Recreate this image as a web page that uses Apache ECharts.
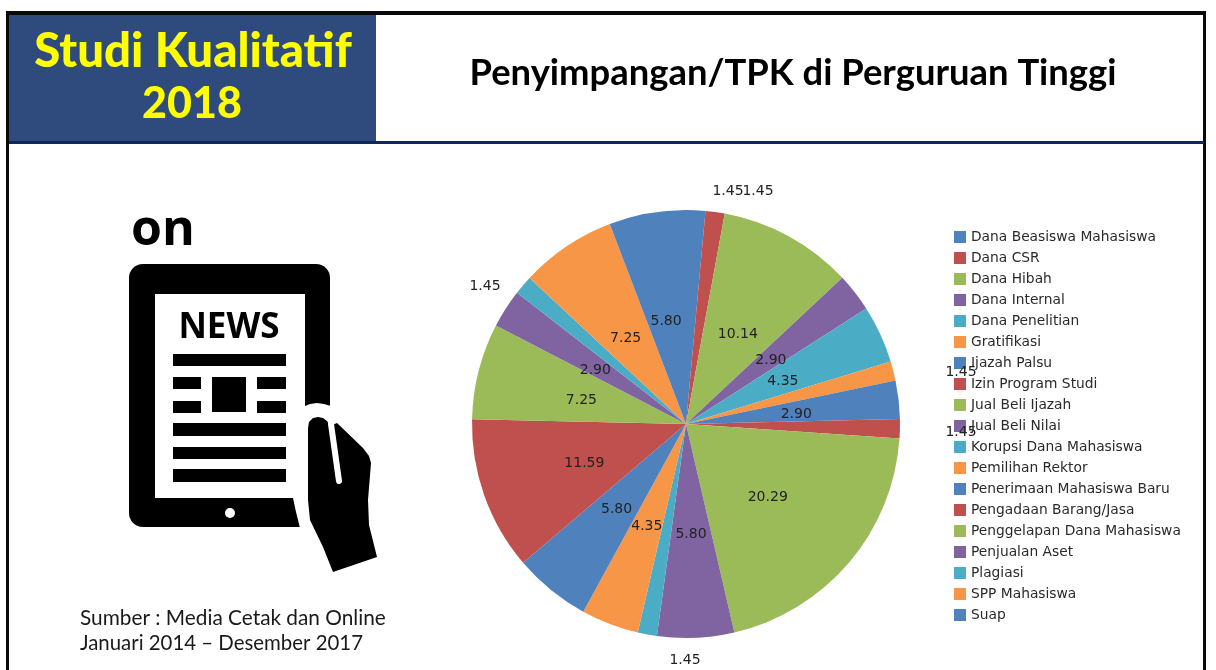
<!DOCTYPE html>
<html>
<head>
<meta charset="utf-8">
<title>Studi Kualitatif 2018</title>
<style>
html, body { margin: 0; padding: 0; background: #fff; }
#main { width: 1216px; height: 670px; }
</style>
<script src="https://cdn.jsdelivr.net/npm/echarts@6/dist/echarts.min.js"></script>
</head>
<body>
<div id="main"></div>
<script>
// data
var categories = ['Dana Beasiswa Mahasiswa', 'Dana CSR', 'Dana Hibah', 'Dana Internal', 'Dana Penelitian',
    'Gratifikasi', 'Ijazah Palsu', 'Izin Program Studi', 'Jual Beli Ijazah', 'Jual Beli Nilai',
    'Korupsi Dana Mahasiswa', 'Pemilihan Rektor', 'Penerimaan Mahasiswa Baru', 'Pengadaan Barang/Jasa',
    'Penggelapan Dana Mahasiswa', 'Penjualan Aset', 'Plagiasi', 'SPP Mahasiswa', 'Suap'];
var values = [1.45, 1.45, 10.14, 2.90, 4.35, 1.45, 2.90, 1.45, 20.29, 5.80, 1.45, 4.35, 5.80, 11.59, 7.25, 2.90, 1.45, 7.25, 5.80];
var colors = ['#4F81BD', '#C0504D', '#9BBB59', '#8064A2', '#4BACC6', '#F79646'];

// the small slices have their labels outside, by index
var outsideLabels = { 0: [728, 191], 1: [758, 191], 5: [961, 372], 7: [961, 432], 10: [685, 660], 16: [485, 286] };
// small nudges for the inside labels, by index
var labelNudge = { 2: [-1, 7], 3: [-2, 4], 4: [-3, 3], 6: [1, 3], 8: [-2, 2], 13: [2, 2], 14: [2, 4], 15: [2, 6], 17: [1, 6], 18: [0, 6] };

var myChart = echarts.init(document.getElementById('main'));

function box(x, y, w, h, fill) {
    return { type: 'rect', shape: { x: x, y: y, width: w, height: h }, style: { fill: fill } };
}

// tablet, hand and page frame are plain decoration
var decoration = [
    box(9, 15, 367, 127, '#2F4A7C'),
    box(6, 11, 1200, 4, '#0a0a0a'),
    box(6, 11, 3, 659, '#0a0a0a'),
    box(1203, 11, 3, 659, '#0a0a0a'),
    box(9, 141, 1195, 3, '#10275c'),
    { type: 'text', style: { text: 'Studi Kualitatif', x: 193, y: 52, align: 'center', verticalAlign: 'middle', fill: '#FFFF00', font: '900 47.4px Lato' } },
    { type: 'text', style: { text: '2018', x: 192, y: 104, align: 'center', verticalAlign: 'middle', fill: '#FFFF00', font: '900 43px Lato' } },
    { type: 'text', style: { text: 'on', x: 163, y: 231, align: 'center', verticalAlign: 'middle', fill: '#000', font: 'bold 50px "Open Sans"' } },

    { type: 'rect', shape: { x: 129, y: 264, width: 201, height: 263, r: 14 }, style: { fill: '#000' } },
    box(155, 294, 150, 204, '#fff'),
    { type: 'text', style: { text: 'NEWS', x: 229, y: 328, align: 'center', verticalAlign: 'middle', fill: '#000', font: 'bold 35px "Open Sans"' } },
    box(173, 354, 113, 12, '#000'),
    box(173, 377, 28, 12, '#000'),
    box(173, 401, 28, 12, '#000'),
    box(212, 377, 34, 35, '#000'),
    box(257, 377, 29, 12, '#000'),
    box(257, 401, 29, 12, '#000'),
    box(173, 423, 113, 13, '#000'),
    box(173, 447, 113, 12, '#000'),
    box(173, 469, 113, 13, '#000'),
    { type: 'circle', shape: { cx: 230, cy: 513, r: 5 }, style: { fill: '#fff' } },
    { type: 'polygon', shape: { points: [[305, 406], [310, 404], [317, 403], [324, 404], [331, 406], [331, 528], [300, 528], [296, 512], [293, 498], [305, 498]] }, style: { fill: '#fff' } },
    { type: 'polygon', shape: { points: [[308, 428], [309, 422], [313, 418], [318, 417], [323, 418], [327, 421], [330, 426], [337, 423], [363, 448], [369, 456], [371, 463], [368, 500], [369, 525], [377, 557], [333, 572], [323, 547], [310, 520], [308, 500]] }, style: { fill: '#000' } },
    { type: 'line', shape: { x1: 331, y1: 424, x2: 339, y2: 481 }, style: { stroke: '#fff', lineWidth: 6, lineCap: 'round' } },

    { type: 'text', style: { text: 'Sumber : Media Cetak dan Online', x: 80, y: 618, verticalAlign: 'middle', fill: '#1a1a1a', font: '20.8px Lato' } },
    { type: 'text', style: { text: 'Januari 2014 \u2013 Desember 2017', x: 80, y: 643, verticalAlign: 'middle', fill: '#1a1a1a', font: '20.4px Lato' } }
];

var option = {
    animation: false,
    color: colors,
    title: {
        text: 'Penyimpangan/TPK di Perguruan Tinggi',
        left: 788,
        top: 68,
        textAlign: 'center',
        textVerticalAlign: 'middle',
        textStyle: { fontFamily: 'Lato', fontWeight: 'bold', fontSize: 36.4, color: '#000' }
    },
    legend: {
        orient: 'vertical',
        left: 954,
        top: 230,
        padding: 0,
        itemWidth: 12,
        itemHeight: 12,
        itemGap: 7,
        selectedMode: false,
        icon: 'rect',
        data: categories,
        textStyle: { fontFamily: 'DejaVu Sans', fontSize: 13.8, color: '#2a2a2a' }
    },
    graphic: decoration,
    series: [{
        type: 'pie',
        z: 5,
        center: [686, 424],
        radius: 214,
        startAngle: 90,
        clockwise: true,
        avoidLabelOverlap: false,
        silent: true,
        labelLine: { show: false },
        label: { show: true, fontFamily: 'DejaVu Sans', fontSize: 14, color: '#222' },
        labelLayout: function (params) {
            var p = outsideLabels[params.dataIndex];
            if (p) {
                return { x: p[0], y: p[1], align: 'center', verticalAlign: 'middle' };
            }
            var n = labelNudge[params.dataIndex];
            return n ? { dx: n[0], dy: n[1] } : {};
        },
        data: categories.map(function (name, i) {
            return {
                name: name,
                value: values[i],
                label: {
                    position: outsideLabels[i] ? 'outside' : 'inside',
                    formatter: values[i].toFixed(2)
                }
            };
        })
    }]
};

myChart.setOption(option);
</script>
</body>
</html>
